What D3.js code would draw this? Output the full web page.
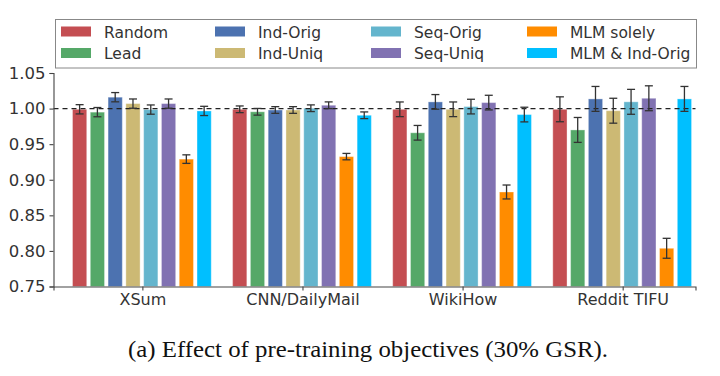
<!DOCTYPE html>
<html>
<head>
<meta charset="utf-8">
<script src="https://cdn.jsdelivr.net/npm/d3@7/dist/d3.min.js"></script>
<style>
  html, body { margin: 0; padding: 0; background: #fff; }
  svg { display: block; }
  .tick text { font-family: "DejaVu Sans", sans-serif; fill: #333; }
</style>
</head>
<body>
<svg id="chart" width="720" height="376"></svg>
<script>
var datasets = ['XSum', 'CNN/DailyMail', 'WikiHow', 'Reddit TIFU'];
var objectives = ['Random', 'Lead', 'Ind-Orig', 'Ind-Uniq', 'Seq-Orig', 'Seq-Uniq', 'MLM solely', 'MLM & Ind-Orig'];
var colors = ['#c44e52', '#55a868', '#4c72b0', '#ccb974', '#64b5cd', '#8172b2', '#ff8c00', '#00bfff'];

// relative score per dataset, one array per objective
var random    = [0.999, 0.999, 0.999, 0.999];
var lead      = [0.995, 0.9955, 0.966, 0.970];
var indOrig   = [1.016, 0.998, 1.0094, 1.0136];
var indUniq   = [1.007, 0.998, 0.999, 0.997];
var seqOrig   = [0.9986, 1.0005, 1.0028, 1.0095];
var seqUniq   = [1.007, 1.0047, 1.0084, 1.0145];
var mlmSolely = [0.929, 0.9325, 0.8828, 0.8037];
var mlmInd    = [0.9967, 0.9906, 0.9916, 1.0136];
// error bar half widths per dataset
var errs = [0.0065, 0.0047, 0.0103, 0.0175];
var mlmErrs = [0.006, 0.0045, 0.0098, 0.014];

var yTicks = [0.75, 0.80, 0.85, 0.90, 0.95, 1.00, 1.05];

var values = [random, lead, indOrig, indUniq, seqOrig, seqUniq, mlmSolely, mlmInd];

var svg = d3.select('#chart');
var plotLeft = 53.5, plotRight = 695.5, plotTop = 73, plotBottom = 286.5;

var x = d3.scaleLinear().domain([-0.552, 3.458]).range([plotLeft, plotRight]);
var y = d3.scaleLinear().domain([0.75, 1.05]).range([plotBottom, plotTop]);

var slot = 1 / 9;
var barW = x(slot * 0.8) - x(0);

var rows = [];
values.forEach(function(series, j) {
  series.forEach(function(v, i) {
    rows.push({
      group: i,
      k: j,
      value: v,
      err: j === 6 ? mlmErrs[i] : errs[i]
    });
  });
});

function barCenter(d) {
  return x(d.group + (d.k - 3.5) * slot);
}

var plot = svg.append('g');

plot.selectAll('rect.bar')
  .data(rows)
  .enter()
  .append('rect')
  .attr('class', 'bar')
  .attr('x', function(d) { return barCenter(d) - barW / 2; })
  .attr('width', barW)
  .attr('y', function(d) { return y(d.value); })
  .attr('height', function(d) { return y(0.75) - y(d.value); })
  .attr('fill', function(d) { return colors[d.k]; })
  .attr('stroke', '#fff')
  .attr('stroke-opacity', 0.35)
  .attr('stroke-width', 1);

// dashed reference line at 1.0
plot.append('line')
  .attr('x1', plotLeft).attr('x2', plotRight)
  .attr('y1', y(1)).attr('y2', y(1))
  .attr('stroke', '#222')
  .attr('stroke-width', 1.2)
  .attr('stroke-dasharray', '5,4');

// error bars
var eb = plot.selectAll('g.err')
  .data(rows)
  .enter()
  .append('g')
  .attr('class', 'err')
  .attr('stroke', '#333')
  .attr('stroke-width', 1.3);

eb.append('line')
  .attr('x1', barCenter).attr('x2', barCenter)
  .attr('y1', function(d) { return y(d.value + d.err); })
  .attr('y2', function(d) { return y(d.value - d.err); });
[1, -1].forEach(function(s) {
  eb.append('line')
    .attr('x1', function(d) { return barCenter(d) - 4; })
    .attr('x2', function(d) { return barCenter(d) + 4; })
    .attr('y1', function(d) { return y(d.value + s * d.err); })
    .attr('y2', function(d) { return y(d.value + s * d.err); });
});

// axes
var yAxis = d3.axisLeft(y).tickValues(yTicks).tickFormat(d3.format('.2f')).tickSizeOuter(0).tickSize(4).tickPadding(4);
var gy = svg.append('g').attr('transform', 'translate(' + plotLeft + ',0)').call(yAxis);
gy.selectAll('text').style('font-size', '16.5px');

var xAxis = d3.axisBottom(x).tickValues([0, 1, 2, 3])
  .tickFormat(function(i) { return datasets[i]; })
  .tickSizeOuter(0).tickSize(4).tickPadding(3);
var gx = svg.append('g').attr('transform', 'translate(0,' + plotBottom + ')').call(xAxis);
gx.selectAll('text').style('font-size', '16px');
gx.selectAll('.tick').attr('transform', function(i) { return 'translate(' + (x(i) + 1) + ',0)'; });

svg.selectAll('.domain, .tick line').attr('stroke', '#444').attr('stroke-width', 1.1);

// legend
var legend = svg.append('g');
legend.append('rect')
  .attr('x', 55.5).attr('y', 19.5)
  .attr('width', 641).attr('height', 48.5)
  .attr('fill', '#fff')
  .attr('stroke', '#888')
  .attr('stroke-width', 1);

var colX = [61, 215, 371, 527];
var rowY = [31.5, 53];
var items = legend.selectAll('g.item')
  .data(objectives)
  .enter()
  .append('g')
  .attr('class', 'item')
  .attr('transform', function(d, i) {
    return 'translate(' + colX[Math.floor(i / 2)] + ',' + rowY[i % 2] + ')';
  });
items.append('rect')
  .attr('x', 0).attr('y', -5)
  .attr('width', 30).attr('height', 10)
  .attr('fill', function(d, i) { return colors[i]; });
items.append('text')
  .attr('x', 43).attr('y', 6)
  .attr('font-family', 'DejaVu Sans, sans-serif')
  .attr('font-size', '15.5px')
  .attr('fill', '#333')
  .text(function(d) { return d; });

// caption
svg.append('text')
  .attr('x', 368).attr('y', 357)
  .attr('text-anchor', 'middle')
  .attr('font-family', 'Liberation Serif, Times New Roman, serif')
  .attr('font-size', '23px')
  .attr('textLength', 480)
  .attr('lengthAdjust', 'spacingAndGlyphs')
  .attr('fill', '#111')
  .text('(a) Effect of pre-training objectives (30% GSR).');
</script>
</body>
</html>
